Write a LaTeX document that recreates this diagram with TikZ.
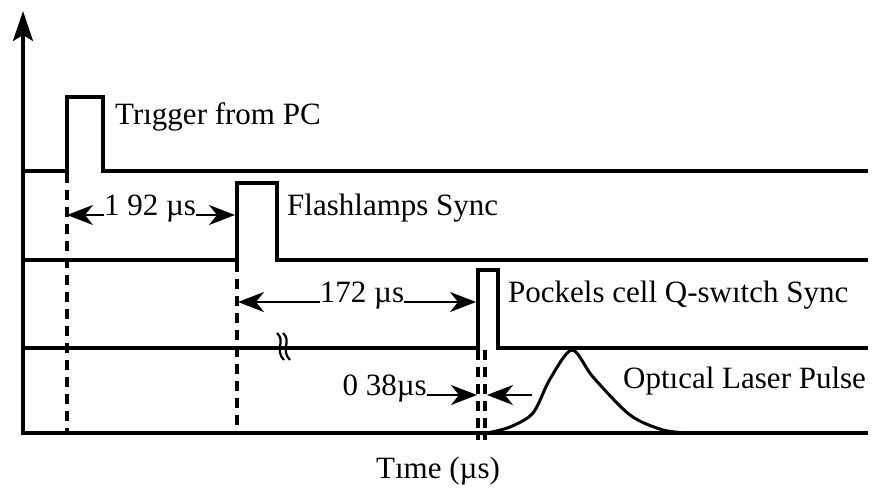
\documentclass[tikz,border=0pt]{standalone}
\usepackage{fontspec}
\setmainfont{Liberation Serif}
\usetikzlibrary{arrows.meta}
\begin{document}
\begin{tikzpicture}[x=1pt,y=-1pt,
  ax/.style={line width=3.4pt},
  pulse/.style={line width=3.4pt, line join=miter},
  dsh/.style={line width=3.2pt, dash pattern=on 10pt off 7pt},
  dim/.style={line width=2.8pt, -{Stealth[length=26pt,width=20pt,inset=8pt]}},
  lbl/.style={font=\fontsize{31}{34}\selectfont, inner sep=0pt, anchor=base west},
  brk/.style={line width=2.2pt},
]
\useasboundingbox (0,0) rectangle (877,502);
% named reference points
\coordinate (origin) at (23,433);
\coordinate (ytip) at (23,11);
\coordinate (xend) at (868,433);
% axes
\draw[ax, -{Stealth[length=30pt,width=20pt,inset=6pt]}] (23,435) -- (ytip);
\draw[ax] (21,433) -- (xend);
% pulse traces
\draw[pulse] (23,171) -- (67,171) -- (67,97) -- (103,97) -- (103,171) -- (868,171);
\draw[pulse] (23,260) -- (237,260) -- (237,183) -- (277,183) -- (277,260) -- (868,260);
\draw[pulse] (23,348) -- (478,348) -- (478,270) -- (498,270) -- (498,348) -- (868,348);
% dashed timing markers
\coordinate (d1t) at (67,173);  \coordinate (d1b) at (67,433);
\coordinate (d2t) at (237,262); \coordinate (d2b) at (237,433);
\coordinate (d3t) at (478,350); \coordinate (d3b) at (478,440);
\coordinate (d4t) at (485,350); \coordinate (d4b) at (485,440);
\draw[dsh] (d1t) -- (d1b);
\draw[dsh] (d2t) -- (d2b);
\draw[dsh] (d3t) -- (d3b);
\draw[dsh] (d4t) -- (d4b);
% optical pulse
\draw[line width=3pt] plot[smooth, tension=0.5] coordinates
  {(487,433) (510,427) (533,413) (550,379) (572,350) (593,377) (630,415) (663,430) (690,433)};
% break mark
\draw[brk] (277,333) .. controls (286,341) and (274,350) .. (284,360);
\draw[brk] (283,333) .. controls (292,341) and (280,350) .. (290,360);
% dimension labels and arrows
\node[lbl, anchor=mid] (m1) at (150,213) {1 92 µs};
\coordinate (m1l) at (67,215);
\coordinate (m1r) at (235,215);
\draw[dim] (m1.west |- m1l) -- (m1l);
\draw[dim] (m1.east |- m1r) -- (m1r);
\node[lbl, anchor=mid] (m2) at (362,300) {172 µs};
\coordinate (m2l) at (238,302);
\coordinate (m2r) at (476,302);
\draw[dim] (m2.west |- m2l) -- (m2l);
\draw[dim] (m2.east |- m2r) -- (m2r);
\node[lbl, anchor=mid east] (m3) at (427,393) {0 38µs};
\coordinate (m3r) at (477,395);
\coordinate (m3s) at (532,395);
\coordinate (m3t) at (487,395);
\draw[dim] (m3.east |- m3r) -- (m3r);
\draw[dim] (m3s) -- (m3t);
% signal labels
\node[lbl] (l1) at (115,125) {Trıgger from PC};
\node[lbl] (l2) at (287,216) {Flashlamps Sync};
\node[lbl] (l3) at (508,302) {Pockels cell Q-swıtch Sync};
\node[lbl] (l4) at (623,388) {Optıcal Laser Pulse};
\node[lbl, anchor=base] (l5) at (438,478) {Tıme (µs)};
\end{tikzpicture}
\end{document}
